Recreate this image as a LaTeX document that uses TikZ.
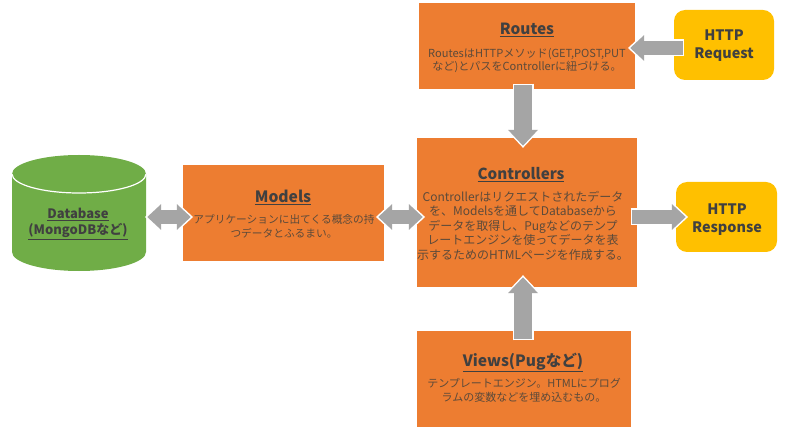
\documentclass[tikz,border=0pt]{standalone}
\usepackage{fontspec}
\setmainfont{Noto Sans CJK JP}
\usetikzlibrary{arrows.meta}
\definecolor{boxorange}{HTML}{ED7D31}
\definecolor{boxyellow}{HTML}{FFC000}
\definecolor{dbgreen}{HTML}{70AD47}
\definecolor{arrowgray}{HTML}{A5A5A5}
\definecolor{titletext}{HTML}{404040}
\definecolor{bodytext}{HTML}{5C4A3A}
\tikzset{
  x=1pt,y=-1pt,
  Htip/.tip={Triangle[length=14pt,width=25pt]},
  Hwtip/.tip={Triangle[length=17.8pt,width=31.8pt]},
  Vtip/.tip={Triangle[length=16pt,width=29pt]},
  Vwtip/.tip={Triangle[length=19.6pt,width=35.6pt]},
  block/.style 2 args={rectangle,fill=boxorange,inner sep=0pt,minimum width=#1,minimum height=#2},
  request/.style 2 args={rectangle,rounded corners=11pt,fill=boxyellow,inner sep=0pt,minimum width=#1,minimum height=#2},
  ghost/.style 2 args={rectangle,inner sep=0pt,minimum width=#1,minimum height=#2},
  titlelabel/.style={text=titletext,font=\fontsize{#1}{17}\selectfont\bfseries,inner sep=0pt},
  bodylabel/.style 2 args={text=bodytext,font=\fontsize{#1}{#2}\selectfont,align=center,inner sep=0pt},
  pilllabel/.style={text=titletext,font=\fontsize{14.4}{18}\selectfont\bfseries,align=center,inner sep=0pt},
  dblabel/.style={text=titletext,font=\fontsize{13}{16}\selectfont\bfseries,align=center,inner sep=0pt},
  harrow/.style 2 args={preaction={draw=white,line width=17pt,-{Hwtip},shorten <=#1-1.5pt,shorten >=#2-2.3pt},
    draw=arrowgray,line width=14pt,-{Htip},shorten <=#1,shorten >=#2},
  varrow/.style 2 args={preaction={draw=white,line width=21pt,-{Vwtip},shorten <=#1-1.5pt,shorten >=#2-2.1pt},
    draw=arrowgray,line width=18pt,-{Vtip},shorten <=#1,shorten >=#2},
  darrow/.style 2 args={preaction={draw=white,line width=17pt,{Hwtip}-{Hwtip},shorten <=#1-2.3pt,shorten >=#2-2.3pt},
    draw=arrowgray,line width=14pt,{Htip}-{Htip},shorten <=#1,shorten >=#2},
}
\begin{document}
\begin{tikzpicture}
\useasboundingbox (0,0) rectangle (791,427);

% boxes
\node[block={216pt}{86pt}] (routes) at (527,46) {};
\node[request={100pt}{70pt}] (req) at (724,45) {};
\node[block={220pt}{149pt}] (ctrl) at (527,212.5) {};
\node[request={101pt}{70pt}] (resp) at (726.5,217) {};
\node[block={201pt}{96pt}] (models) at (283.5,213) {};
\node[block={214pt}{96pt}] (views) at (524,379) {};

% database cylinder
\node[ghost={134pt}{116pt}] (db) at (79,213) {};
\fill[dbgreen] (12,174) -- (12,252) arc[start angle=180,end angle=360,x radius=67,y radius=-19]
  -- (146,174) arc[start angle=0,end angle=180,x radius=67,y radius=-19] -- cycle;
\draw[white,line width=1.2pt] (12,174) arc[start angle=180,end angle=360,x radius=67,y radius=-19];

% arrows
\draw[harrow={-9pt}{-5pt}] ([yshift=-3pt]req.west) -- ([yshift=-2pt]routes.east);
\draw[varrow={-4pt}{-8pt}] ([xshift=-4pt]routes.south) -- ([xshift=-4pt]ctrl.north);
\draw[darrow={1pt}{-8pt}] ([yshift=-4pt]db.east) -- ([yshift=-4pt]models.west);
\draw[darrow={-6pt}{-6pt}] ([yshift=-4pt]models.east) -- ([yshift=-4.5pt]ctrl.west);
\draw[harrow={-5pt}{-10pt}] ([yshift=-4.5pt]ctrl.east) -- (resp.west);
\draw[varrow={-8pt}{-10pt}] ([xshift=-1pt]views.north) -- ([xshift=-4pt]ctrl.south);

% labels
\node[titlelabel=15.4] (routesT) at (527,29.5) {\underline{Routes}};
\node[bodylabel={11.1}{13}] (routesB) at (527,61) {RoutesはHTTPメソッド(GET,POST,PUT\\など)とパスをControllerに紐づける。};
\node[pilllabel] (reqT) at (724,46) {HTTP\\Request};
\node[titlelabel=15.2] (ctrlT) at (521,174.5) {\underline{Controllers}};
\node[bodylabel={12}{14.5}] (ctrlB) at (523,225.5) {Controllerはリクエストされたデータ\\を、Modelsを通してDatabaseから\\データを取得し、Pugなどのテンプ\\レートエンジンを使ってデータを表\\示するためのHTMLページを作成する。};
\node[pilllabel] (respT) at (727,219.5) {HTTP\\Response};
\node[titlelabel=15.6] (modelsT) at (283,197.5) {\underline{Models}};
\node[bodylabel={10.7}{14}] (modelsB) at (284,226) {アプリケーションに出てくる概念の持\\つデータとふるまい。};
\node[titlelabel=15.6] (viewsT) at (523,362.5) {\underline{Views(Pugなど)}};
\node[bodylabel={11}{13.5}] (viewsB) at (524,390.5) {テンプレートエンジン。HTMLにプログ\\ラムの変数などを埋め込むもの。};
\node[dblabel] (dbT) at (78,224) {\underline{Database}\\\underline{(MongoDBなど)}};
\end{tikzpicture}
\end{document}
